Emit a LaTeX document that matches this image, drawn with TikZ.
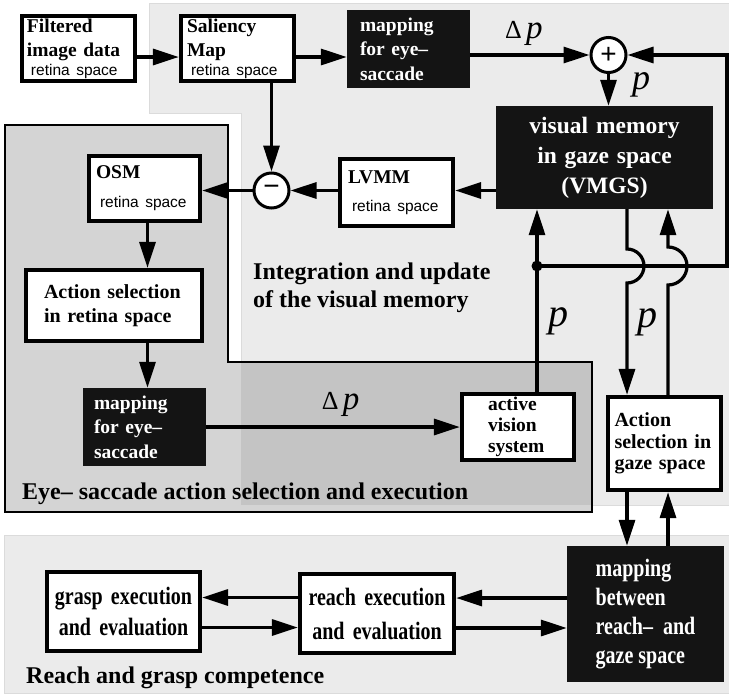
\documentclass[tikz,border=0pt]{standalone}
\usepackage{fontspec}
\setmainfont{Liberation Serif}
\setsansfont{Liberation Sans}
\newfontfamily\narrowserif[FakeStretch=0.8]{Liberation Serif}
\usetikzlibrary{arrows.meta}
\tikzset{>={Triangle[length=26pt,width=16pt]}}
\newcommand{\retinatext}{{\sffamily\mdseries\fontsize{15.5}{18}\selectfont\hspace*{4pt}retina space}}

\tikzset{
  region/.style={fill=black!8, draw=black!14, line width=0.8pt},
  wbox/.style={draw, line width=3.8pt, fill=white, inner sep=0pt, align=left,
    font=\bfseries\fontsize{19.5}{24}\selectfont},
  bbox/.style={fill=black!92, text=white, inner sep=0pt, align=left,
    font=\bfseries\fontsize{19.5}{24.5}\selectfont},
  nbox/.style={font=\narrowserif\bfseries\fontsize{25}{31}\selectfont},
  junction/.style={circle, draw, line width=3pt, fill=white, minimum size=35pt, inner sep=0pt,
    font=\sffamily\fontsize{28}{28}\selectfont},
  link/.style={line width=3.2pt},
  var/.style={inner sep=0pt, font=\itshape\fontsize{40}{40}\selectfont},
  grouplabel/.style={inner sep=0pt, align=left, font=\bfseries\fontsize{24}{28}\selectfont}
}

\begin{document}
\begin{tikzpicture}[x=1pt,y=1pt]
  \useasboundingbox (0,0) rectangle (729,-694);
  \fill[region] (149,-3) -- (729,-3) -- (729,-505) -- (241,-505) -- (241,-113) -- (149,-113) -- cycle;
  \fill[region] (4,-535) rectangle (729,-693);
  \fill[black!17] (5,-125) -- (228,-125) -- (228,-362) -- (592,-362) -- (592,-512) -- (5,-512) -- cycle;
  \fill[black!23] (241,-362) rectangle (592,-505);
  \draw[line width=1.2pt] (5,-125) -- (228,-125) -- (228,-362) -- (592,-362) -- (592,-512) -- (5,-512) -- cycle;

  \node[wbox, minimum width=113.5pt, minimum height=65.5pt, text width=103pt] (filt) at (78.5,-48.5)
    {Filtered\\image data\\[-5pt]\retinatext};
  \node[wbox, minimum width=113.5pt, minimum height=65.5pt, text width=101pt] (sal) at (237.5,-48.5)
    {Saliency\\Map\\[-5pt]\retinatext};
  \node[bbox, minimum width=123pt, minimum height=78pt, text width=97pt] (mapt) at (408.5,-49)
    {mapping\\for eye–\\saccade};
  \node[junction] (sum) at (608.5,-55) {+};
  \node[bbox, minimum width=217pt, minimum height=103pt, text width=200pt, align=center,
    font=\bfseries\fontsize{23.5}{30}\selectfont] (vmgs) at (604.5,-157.5)
    {visual memory\\in gaze space\\(VMGS)};
  \node[wbox, minimum width=113.5pt, minimum height=67.5pt, text width=97pt] (lvmm) at (396.5,-192.5)
    {LVMM\\[4pt]\retinatext};
  \node[junction] (diff) at (271.5,-190.5) {−};
  \node[wbox, minimum width=111.5pt, minimum height=65.5pt, text width=97pt] (osm) at (144.5,-188.5)
    {OSM\\[5pt]\retinatext};
  \node[wbox, minimum width=176.5pt, minimum height=71.5pt, text width=140pt,
    font=\bfseries\fontsize{20}{24}\selectfont] (asr) at (114,-305.5)
    {Action selection\\in retina space};
  \node[bbox, minimum width=123pt, minimum height=78pt, text width=101pt] (mapl) at (144.5,-427)
    {mapping\\for eye–\\saccade};
  \node[wbox, minimum width=112.5pt, minimum height=66.5pt, text width=60pt,
    font=\bfseries\fontsize{19.5}{21}\selectfont] (avs) at (518,-427)
    {active\\vision\\system};
  \node[wbox, minimum width=113.5pt, minimum height=93.5pt, text width=100pt,
    font=\bfseries\fontsize{20}{21.5}\selectfont] (asg) at (664.5,-443.5)
    {Action\\selection in\\gaze space};
  \node[bbox, minimum width=157pt, minimum height=136pt,
    font=\narrowserif\bfseries\fontsize{25}{29}\selectfont] (mapb) at (645.5,-614)
    {mapping\\between\\reach–\ \ and\\gaze space};
  \node[wbox, nbox, minimum width=154.5pt, minimum height=79.5pt, text width=140pt, align=center,
    font=\narrowserif\bfseries\fontsize{25}{34}\selectfont] (reach) at (377,-613.5)
    {reach execution\\and evaluation};
  \node[wbox, nbox, minimum width=153.5pt, minimum height=79.5pt, text width=140pt, align=center] (grasp) at (123.5,-611.5)
    {grasp execution\\and evaluation};

  \node[grouplabel, anchor=north west] (intlbl) at (253,-263) {Integration and update\\of the visual memory};
  \node[grouplabel, anchor=base west] (eyelbl) at (22,-499) {Eye– saccade action selection and execution};
  \node[grouplabel, anchor=base west] (reachlbl) at (26,-683) {Reach and grasp competence};

  \coordinate (jn) at (537,-266);
  \coordinate (fb) at (727,-266);
  \coordinate (hopa) at (627,-266);
  \coordinate (hopb) at (668,-266);

  \draw[link,->] ([yshift=-8.5pt]filt.east) -- ([yshift=-8.5pt]sal.west);
  \draw[link,->] ([yshift=-8.5pt]sal.east) -- ([yshift=-8.5pt]sal.east -| mapt.west);
  \draw[link,->] (mapt.east |- sum) -- node[var, pos=0.45, above=8pt]
    {\upshape\fontsize{26}{26}\selectfont Δ\,\itshape\fontsize{33}{33}\selectfont p} (sum.west);
  \draw[link,->] (sum.south) -- node[var, pos=0.33, right=22pt, font=\itshape\fontsize{36}{36}\selectfont] {p} (sum.south |- vmgs.north);
  \draw[link,->] (vmgs.west |- diff) -- (lvmm.east |- diff);
  \draw[link,->] (lvmm.west |- diff) -- (diff.east);
  \draw[link,->] (sal.south -| diff) -- (diff.north);
  \draw[link,->] (diff.west) -- (osm.east |- diff);
  \draw[link,->] ([xshift=3pt]osm.south) -- ([xshift=3pt]osm.south |- asr.north);
  \draw[link,->] ([xshift=3pt]mapl.north |- asr.south) -- ([xshift=3pt]mapl.north);
  \draw[link,->] (mapl.east) -- node[var, pos=0.53, above=9pt]
    {\upshape\fontsize{26}{26}\selectfont Δ\,\itshape\fontsize{33}{33}\selectfont p} (avs.west |- mapl.east);
  \draw[link] (avs.north -| jn) -- node[var, pos=0.56, right=10pt] {p} (jn);
  \draw[link,->] (jn) -- (jn |- vmgs.south);
  \fill (jn) circle (5.5pt);
  \draw[link,->] (jn) -- (fb) |- (sum.east);
  \draw[link,->] (hopa |- vmgs.south) -- ([yshift=17pt]hopa) arc[start angle=90, end angle=-90, radius=17pt]
    -- node[var, pos=0.35, right=9pt] {p} (hopa |- asg.north);
  \draw[link,->] (hopb |- asg.north) -- ([yshift=-19pt]hopb) arc[start angle=-90, end angle=90, radius=19pt]
    -- (hopb |- vmgs.south);
  \draw[link,->] (hopa |- asg.south) -- (hopa |- mapb.north);
  \draw[link,->] (hopb |- mapb.north) -- (hopb |- asg.south);
  \draw[link,->] ([yshift=16pt]mapb.west) -- ([yshift=16pt]mapb.west -| reach.east);
  \draw[link,->] ([yshift=-14pt]mapb.west -| reach.east) -- ([yshift=-14pt]mapb.west);
  \draw[link,->] ([yshift=16pt]reach.west) -- ([yshift=16pt]reach.west -| grasp.east);
  \draw[link,->] ([yshift=-14pt]reach.west -| grasp.east) -- ([yshift=-14pt]reach.west);
\end{tikzpicture}
\end{document}
